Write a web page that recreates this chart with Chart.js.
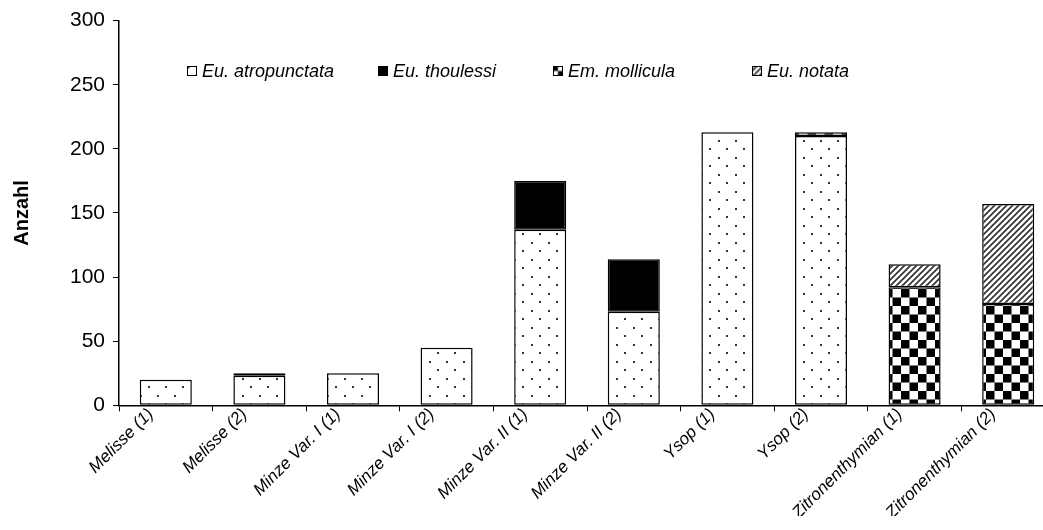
<!DOCTYPE html>
<html><head><meta charset="utf-8">
<script src="https://cdn.jsdelivr.net/npm/chart.js@4/dist/chart.umd.min.js"></script>
<style>
html,body{margin:0;padding:0;background:#fff;overflow:hidden;}
#wrap{width:1062px;height:530px;position:relative;}
</style></head><body>
<div id="wrap"><canvas id="c"></canvas></div>
<script>
const categories = ['Melisse (1)','Melisse (2)','Minze Var. I (1)','Minze Var. I (2)','Minze Var. II (1)','Minze Var. II (2)','Ysop (1)','Ysop (2)','Zitronenthymian (1)','Zitronenthymian (2)'];
const seriesNames = ['Eu. atropunctata','Eu. thoulessi','Em. mollicula','Eu. notata'];
const atropunctata = [20, 23, 25, 45, 137, 73, 213, 210, null, null];
const thoulessi   = [null, null, null, null, 38, 41, null, null, null, null];
const mollicula   = [null, 2, null, null, null, null, null, 3, 92, 79];
const notata      = [null, null, null, null, null, null, null, null, 18, 78];
const yTickValues = [0, 50, 100, 150, 200, 250, 300];

function makePattern(size, draw){
  const c = document.createElement('canvas');
  c.width = size; c.height = size;
  const g = c.getContext('2d');
  g.fillStyle = '#fff'; g.fillRect(0,0,size,size);
  draw(g, size);
  return g.createPattern(c, 'repeat');
}
const dotPattern = makePattern(17, (g)=>{
  g.fillStyle = '#333';
  g.fillRect(4,4,2,2);
  g.fillRect(12,12,2,2);
});
const checkPattern = makePattern(17, (g)=>{
  g.fillStyle = '#000';
  g.fillRect(0,0,8.5,8.5);
  g.fillRect(8.5,8.5,8.5,8.5);
});
const hatchPattern = makePattern(6, (g)=>{
  g.strokeStyle = '#333'; g.lineWidth = 1.7;
  g.beginPath();
  g.moveTo(-1,7); g.lineTo(7,-1);
  g.moveTo(-4,4); g.lineTo(4,-4);
  g.moveTo(2,10); g.lineTo(10,2);
  g.stroke();
});

const fills = [dotPattern, '#000', checkPattern, hatchPattern];
const values = [atropunctata, thoulessi, mollicula, notata];

const legendPlugin = {
  id: 'patLegend',
  afterDatasetsDraw(chart, args, opts){
    const ctx = chart.ctx;
    ctx.save();
    ctx.font = 'italic 18px "Liberation Sans", Arial, sans-serif';
    ctx.textBaseline = 'middle';
    chart.data.datasets.forEach((ds, i) => {
      const x = opts.xs[i], y = opts.y;
      ctx.save();
      ctx.translate(x - 3.5, y - 5 - 3.5);
      ctx.fillStyle = ds.backgroundColor;
      ctx.fillRect(3.5, 3.5, 10, 10);
      ctx.restore();
      ctx.strokeStyle = '#000'; ctx.lineWidth = 1;
      ctx.strokeRect(x + 0.5, y - 4.5, 9, 9);
      ctx.fillStyle = '#000';
      ctx.fillText(ds.label, x + 15, y + 1);
    });
    ctx.restore();
  }
};

new Chart(document.getElementById('c'), {
  type: 'bar',
  data: {
    labels: categories,
    datasets: seriesNames.map((n, i) => ({
      label: n,
      data: values[i],
      backgroundColor: fills[i],
      borderColor: '#000',
      borderWidth: 1.5,
      borderSkipped: false,
      categoryPercentage: 1,
      barPercentage: 0.556
    }))
  },
  options: {
    responsive: true,
    maintainAspectRatio: false,
    animation: false,
    devicePixelRatio: 1,
    layout: { padding: { left: 0, top: 18, right: 7, bottom: 14 } },
    plugins: {
      legend: { display: false },
      tooltip: { enabled: false },
      patLegend: { xs: [187, 378, 553, 752], y: 71 }
    },
    scales: {
      x: {
        stacked: true,
        grid: { display: true, drawOnChartArea: false, drawTicks: true, tickLength: 6, color: '#000', lineWidth: 1, offset: true },
        border: { color: '#000', width: 1.5 },
        ticks: {
          autoSkip: false, maxRotation: 45, minRotation: 45, padding: -7, labelOffset: -15,
          color: '#000',
          font: { family: '"Liberation Sans", Arial, sans-serif', size: 17, style: 'italic' }
        }
      },
      y: {
        stacked: true,
        min: 0, max: 300,
        afterBuildTicks: (s) => { s.ticks = yTickValues.map(v => ({ value: v })); },
        afterFit: (s) => { s.width = 119; },
        grid: { display: true, drawOnChartArea: false, drawTicks: true, tickLength: 6, color: '#000', lineWidth: 1 },
        border: { color: '#000', width: 1.5 },
        ticks: {
          color: '#000', padding: 8,
          font: { family: '"Liberation Sans", Arial, sans-serif', size: 21 }
        },
        title: {
          display: true, text: 'Anzahl', color: '#000', padding: { top: 10, bottom: 0 },
          font: { family: '"Liberation Sans", Arial, sans-serif', size: 20, weight: 'bold' }
        }
      }
    }
  },
  plugins: [legendPlugin]
});
</script>
</body></html>
